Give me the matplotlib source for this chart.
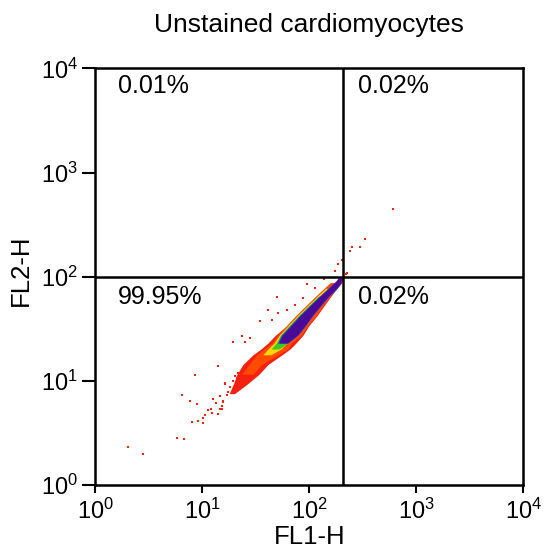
import numpy as np
import matplotlib.pyplot as plt

plt.rcParams["font.family"] = ["Liberation Sans", "DejaVu Sans"]
plt.rcParams["mathtext.fontset"] = "custom"
plt.rcParams["mathtext.rm"] = "Liberation Sans"
plt.rcParams["mathtext.it"] = "Liberation Sans:italic"

# quadrant gates (FL1-H, FL2-H)
fl1_gate = 208
fl2_gate = 100
quad_labels = ["0.01%", "0.02%", "99.95%", "0.02%"]
decades = [0, 1, 2, 3, 4]

# density band, log10 units
# rows of FL2-H, and left/right FL1-H edge of each density level per row
band_rows = [1.991, 1.944, 1.888, 1.813, 1.719, 1.625, 1.531, 1.438, 1.363, 1.306, 1.250, 1.157, 1.063, 0.970, 0.877]
red_left = [2.291, 2.230, 2.164, 2.080, 1.987, 1.884, 1.791, 1.683, 1.613, 1.548, 1.473, 1.379, 1.323, 1.290, 1.250]
red_right = [2.319, 2.305, 2.258, 2.202, 2.136, 2.071, 1.996, 1.940, 1.875, 1.819, 1.744, 1.613, 1.529, 1.420, 1.300]
orange_left = [None, 2.195, 2.137, 2.058, 1.964, 1.871, 1.787, 1.703, 1.650, 1.576, 1.510, 1.436, 1.370, None, None]
orange_right = [None, 2.295, 2.248, 2.192, 2.126, 2.061, 1.986, 1.925, 1.830, 1.800, 1.707, 1.557, 1.473, None, None]
yellow_left = [None, None, 2.152, 2.073, 1.979, 1.886, 1.802, 1.718, 1.670, 1.613, 1.566, None, None, None, None]
yellow_right = [None, None, 2.251, 2.176, 2.097, 2.022, 1.957, 1.885, 1.790, 1.735, 1.641, None, None, None, None]
green_left = [None, None, None, 2.083, 1.989, 1.896, 1.812, 1.728, 1.690, 1.641, None, None, None, None, None]
green_right = [None, None, None, 2.176, 2.097, 2.022, 1.957, 1.885, 1.800, 1.716, None, None, None, None, None]
blue_left = [None, 2.230, 2.172, 2.093, 1.999, 1.906, 1.822, 1.738, 1.703, None, None, None, None, None, None]
blue_right = [None, 2.300, 2.259, 2.184, 2.105, 2.030, 1.965, 1.893, 1.798, None, None, None, None, None, None]
purple_left = [2.270, 2.240, 2.182, 2.103, 2.009, 1.916, 1.832, 1.748, 1.715, None, None, None, None, None, None]
purple_right = [2.310, 2.292, 2.251, 2.176, 2.097, 2.022, 1.957, 1.885, 1.790, None, None, None, None, None, None]

# sparse events outside the dense band, log10 units
out_fl1 = [2.784, 2.522, 2.473, 2.398, 2.382, 2.302, 2.272, 2.239, 2.345, 2.348, 2.136, 1.975, 2.052,
           1.694, 1.943, 1.865, 1.788, 1.616, 1.709, 1.538, 1.648, 1.289, 1.367, 1.445, 1.398, 1.149,
           0.931, 0.807, 0.884, 0.947, 1.102, 1.127, 1.195, 1.164, 1.087, 1.024, 1.008, 0.900, 0.962,
           1.008, 0.828, 0.308, 0.448, 0.760, 1.055, 1.078, 1.190, 1.180, 1.149, 1.211, 1.242, 1.227,
           1.258, 1.305, 1.336, 1.289, 1.321, 1.211, 1.164, 1.180]
out_fl2 = [2.646, 2.366, 2.289, 2.286, 2.242, 2.163, 2.118, 2.056, 2.028, 2.031, 1.975, 1.928, 1.890,
           1.806, 1.791, 1.725, 1.681, 1.681, 1.650, 1.578, 1.585, 1.369, 1.431, 1.416, 1.369, 1.141,
           1.059, 0.868, 0.803, 0.776, 0.824, 0.785, 0.801, 0.732, 0.693, 0.671, 0.640, 0.607, 0.616,
           0.594, 0.440, 0.360, 0.295, 0.452, 0.723, 0.732, 0.810, 0.729, 0.683, 0.970, 0.893, 0.861,
           0.939, 1.047, 1.079, 1.000, 1.025, 0.977, 0.852, 0.754]

levels = [
    (red_left, red_right, "#f5200f"),
    (orange_left, orange_right, "#ff4a00"),
    (yellow_left, yellow_right, "#ffd800"),
    (green_left, green_right, "#3cc828"),
    (blue_left, blue_right, "#1e3cdc"),
    (purple_left, purple_right, "#4b0a96"),
]


def draw_plot(out="out.png"):
    fig = plt.figure(figsize=(5.44, 5.49), dpi=100)
    ax = fig.add_axes([0.1754, 0.1166, 0.7866, 0.7588])

    # sparse events
    ax.scatter(10 ** np.array(out_fl1), 10 ** np.array(out_fl2), s=4.5, marker="s",
               color="#f5200f", linewidths=0, zorder=1)

    # density levels, outermost first
    rows = 10 ** np.array(band_rows)
    for left, right, color in levels:
        xl = 10 ** np.array(left, dtype=float)
        xr = 10 ** np.array(right, dtype=float)
        ax.fill_betweenx(rows, xl, xr, color=color, linewidth=0, zorder=2)

    # quadrant lines
    ax.axvline(fl1_gate, color="black", lw=1.8, zorder=3)
    ax.axhline(fl2_gate, color="black", lw=1.8, zorder=3)

    ax.set_xscale("log")
    ax.set_yscale("log")
    ax.set_xlim(1, 1e4)
    ax.set_ylim(1, 1e4)
    ticks = [10 ** d for d in decades]
    labels = [f"$10^{{{d}}}$" for d in decades]
    ax.set_xticks(ticks)
    ax.set_xticklabels(labels)
    ax.set_yticks(ticks)
    ax.set_yticklabels(labels)
    ax.minorticks_off()
    ax.tick_params(axis="x", direction="out", length=6, width=1.5, pad=4, labelsize=17)
    ax.tick_params(axis="y", direction="out", length=9.5, width=1.5, pad=3, labelsize=17)
    for sp in ax.spines.values():
        sp.set_linewidth(1.8)

    # quadrant percentages
    ax.text(0.053, 0.958, quad_labels[0], transform=ax.transAxes, fontsize=18, va="center")
    ax.text(0.614, 0.958, quad_labels[1], transform=ax.transAxes, fontsize=18, va="center")
    ax.text(0.053, 0.452, quad_labels[2], transform=ax.transAxes, fontsize=18, va="center")
    ax.text(0.614, 0.452, quad_labels[3], transform=ax.transAxes, fontsize=18, va="center")

    ax.set_title("Unstained cardiomyocytes", fontsize=19, pad=26)
    ax.set_xlabel("FL1-H", fontsize=18.5, labelpad=1)
    ax.set_ylabel("FL2-H", fontsize=18.5)
    ax.yaxis.set_label_coords(-0.146, 0.516)

    fig.savefig(out, dpi=100)


if __name__ == "__main__":
    draw_plot()
